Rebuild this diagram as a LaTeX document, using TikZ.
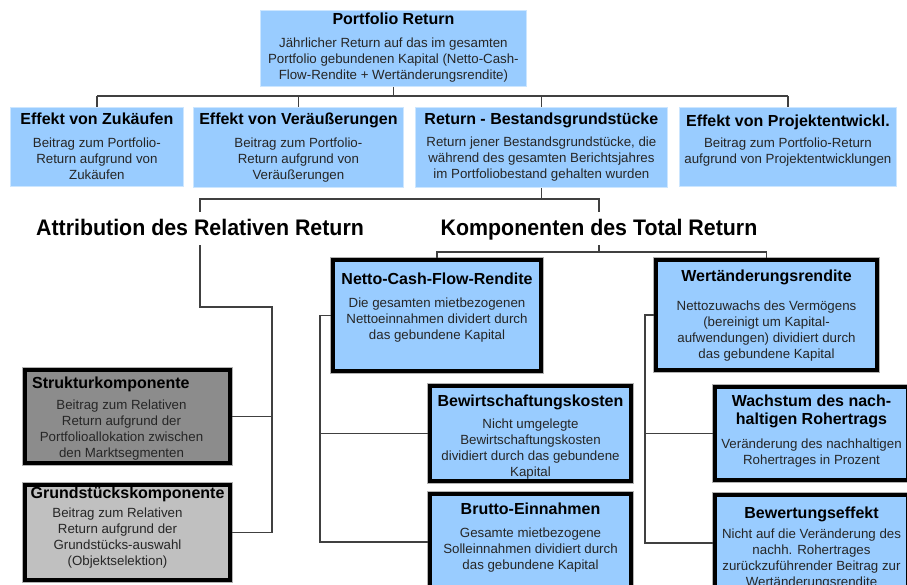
\documentclass[tikz,border=0pt]{standalone}
\usepackage{fontspec}
\setmainfont{Liberation Sans}
\newfontfamily\headfont[FakeStretch=0.95]{Liberation Sans}
\usetikzlibrary{positioning}

\definecolor{boxblue}{RGB}{153,204,255}
\definecolor{linegray}{RGB}{64,64,64}
\definecolor{darkbox}{RGB}{140,140,140}
\definecolor{lightbox}{RGB}{192,192,192}

\tikzset{
  plainbox/.style={draw=boxblue!50!white, line width=0.8pt, fill=boxblue,
    anchor=north west, inner sep=0pt},
  thickbox/.style={draw=black, line width=4pt, fill=boxblue,
    anchor=north west, inner sep=0pt,
    preaction={draw=black!30, line width=6pt}},
  titletext/.style={font=\fontsize{16}{18}\selectfont\bfseries, align=center,
    inner sep=0pt, anchor=north},
  bodytext/.style={font=\fontsize{13.3}{16}\selectfont, text=black!85,
    align=center, inner sep=0pt, anchor=north},
  heading/.style={font=\headfont\bfseries\fontsize{22.5}{26}\selectfont, inner sep=0pt,
    text height=24pt, text depth=9pt, anchor=base},
  conn/.style={draw=linegray, line width=1.2pt},
}

\begin{document}
\begin{tikzpicture}[x=1pt,y=-1pt]
  \useasboundingbox (0,0) rectangle (907,585);
  \clip (0,0) rectangle (907,585);

  % Portfolio return
  \node[plainbox, minimum width=266pt, minimum height=76pt] (portfolio) at (260,10) {};
  \node[titletext, below=3pt of portfolio.north] (portfolioT) {Portfolio Return};
  \node[bodytext, below=28pt of portfolio.north] (portfolioB)
    {Jährlicher Return auf das im gesamten\\Portfolio gebundenen Kapital (Netto-Cash-\\Flow-Rendite + Wertänderungsrendite)};

  % Second row
  \node[plainbox, minimum width=173pt, minimum height=79pt] (zukauf) at (10,107) {};
  \node[titletext, below=6pt of zukauf.north] (zukaufT) {Effekt von Zukäufen};
  \node[bodytext, below=31pt of zukauf.north] (zukaufB)
    {Beitrag zum Portfolio-\\Return aufgrund von\\Zukäufen};

  \node[plainbox, minimum width=210pt, minimum height=80pt] (veraeuss) at (193,107) {};
  \node[titletext, below=6pt of veraeuss.north] (veraeussT) {Effekt von Veräußerungen};
  \node[bodytext, below=31pt of veraeuss.north] (veraeussB)
    {Beitrag zum Portfolio-\\Return aufgrund von\\Veräußerungen};

  \node[plainbox, minimum width=252pt, minimum height=80pt] (bestand) at (415,107) {};
  \node[titletext, below=6pt of bestand.north] (bestandT) {Return - Bestandsgrundstücke};
  \node[bodytext, below=30pt of bestand.north] (bestandB)
    {Return jener Bestandsgrundstücke, die\\während des gesamten Berichtsjahres\\im Portfoliobestand gehalten wurden};

  \node[plainbox, minimum width=217pt, minimum height=79pt] (projekt) at (679,107) {};
  \node[titletext, below=8pt of projekt.north] (projektT) {Effekt von Projektentwickl.};
  \node[bodytext, below=31pt of projekt.north] (projektB)
    {Beitrag zum Portfolio-Return\\aufgrund von Projektentwicklungen};

  % Headings
  \node[heading] (attrib) at (200,236) {Attribution des Relativen Return};
  \node[heading] (kompon) at (599,236) {Komponenten des Total Return};

  % Attribution boxes
  \node[thickbox, fill=darkbox, minimum width=205pt, minimum height=93pt] (struktur) at (23,368) {};
  \node[titletext, anchor=north west, below right=9pt and 9pt of struktur.north west] (strukturT)
    {Strukturkomponente};
  \node[bodytext, below=32pt of struktur.north, xshift=-6pt] (strukturB)
    {Beitrag zum Relativen\\Return aufgrund der\\Portfolioallokation zwischen\\den Marktsegmenten};

  \node[thickbox, fill=lightbox, minimum width=205pt, minimum height=95pt] (grund) at (23,483) {};
  \node[titletext, below=4pt of grund.north] (grundT) {Grundstückskomponente};
  \node[bodytext, below=25pt of grund.north, xshift=-10pt] (grundB)
    {Beitrag zum Relativen\\Return aufgrund der\\Grundstücks-auswahl\\(Objektselektion)};

  % Total return boxes
  \node[thickbox, minimum width=208pt, minimum height=111pt] (netto) at (331,258) {};
  \node[titletext, below=15pt of netto.north] (nettoT) {Netto-Cash-Flow-Rendite};
  \node[bodytext, below=40pt of netto.north] (nettoB)
    {Die gesamten mietbezogenen\\Nettoeinnahmen dividert durch\\das gebundene Kapital};

  \node[thickbox, minimum width=221pt, minimum height=110pt] (wert) at (654,258) {};
  \node[titletext, below=12pt of wert.north] (wertT) {Wertänderungsrendite};
  \node[bodytext, below=43pt of wert.north] (wertB)
    {Nettozuwachs des Vermögens\\(bereinigt um Kapital-\\aufwendungen) dividiert durch\\das gebundene Kapital};

  \node[thickbox, minimum width=201pt, minimum height=95pt] (bewirt) at (428,384) {};
  \node[titletext, below=11pt of bewirt.north] (bewirtT) {Bewirtschaftungskosten};
  \node[bodytext, below=35pt of bewirt.north] (bewirtB)
    {Nicht umgelegte\\Bewirtschaftungskosten\\dividiert durch das gebundene\\Kapital};

  \node[thickbox, minimum width=201pt, minimum height=96pt] (brutto) at (428,492) {};
  \node[titletext, below=11pt of brutto.north] (bruttoT) {Brutto-Einnahmen};
  \node[bodytext, below=36pt of brutto.north] (bruttoB)
    {Gesamte mietbezogene\\Solleinnahmen dividiert durch\\das gebundene Kapital};

  \node[thickbox, minimum width=193pt, minimum height=93pt] (wachstum) at (713,385) {};
  \node[titletext, below=10pt of wachstum.north] (wachstumT) {Wachstum des nach-\\haltigen Rohertrags};
  \node[bodytext, below=54pt of wachstum.north] (wachstumB)
    {Veränderung des nachhaltigen\\Rohertrages in Prozent};

  \node[thickbox, minimum width=193pt, minimum height=96pt] (bewertung) at (713,493) {};
  \node[titletext, below=14pt of bewertung.north] (bewertungT) {Bewertungseffekt};
  \node[bodytext, below=36pt of bewertung.north] (bewertungB)
    {Nicht auf die Veränderung des\\nachh. Rohertrages\\zurückzuführender Beitrag zur\\Wertänderungsrendite};

  % Connectors from the top box
  \coordinate (busA) at (0,96);
  \draw[conn] (portfolio.south) -- (portfolio.south |- busA);
  \draw[conn] (zukauf.north |- busA) -- (projekt.north |- busA);
  \foreach \n in {zukauf,veraeuss,bestand,projekt}
    \draw[conn] (\n.north) -- (\n.north |- busA);

  % Connectors to the headings
  \coordinate (busB) at (0,199);
  \draw[conn] (bestand.south) -- (bestand.south |- busB);
  \draw[conn] (attrib.north) |- (kompon.north |- busB) -- (kompon.north);

  % Attribution branch
  \coordinate (attrJog) at (272,307);
  \draw[conn] (attrib.south) |- (attrJog) |- (grund.east);
  \draw[conn] (struktur.east) -- (struktur.east -| attrJog);

  % Total return branch
  \coordinate (busC) at (0,252);
  \draw[conn] (kompon.south) -- (kompon.south |- busC);
  \draw[conn] (netto.north) |- (wert.north |- busC) -- (wert.north);

  \coordinate (railN) at (320,0);
  \draw[conn] (netto.west) -- (netto.west -| railN) |- (brutto.west);
  \draw[conn] (bewirt.west) -- (bewirt.west -| railN);

  \coordinate (railW) at (645,0);
  \draw[conn] (wert.west) -- (wert.west -| railW) |- (bewertung.west);
  \draw[conn] (wachstum.west) -- (wachstum.west -| railW);
\end{tikzpicture}
\end{document}
